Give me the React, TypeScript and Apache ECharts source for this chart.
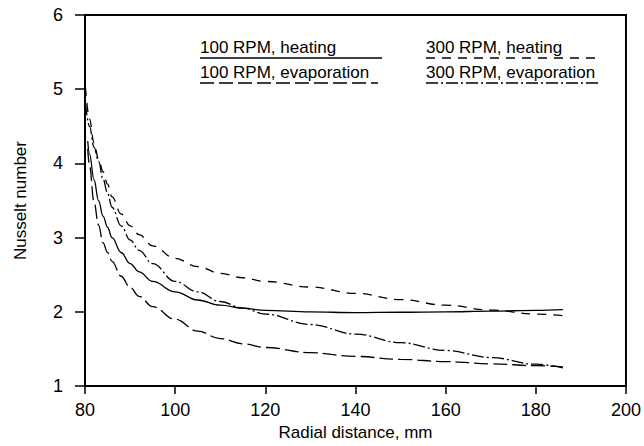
import React, { useEffect, useRef } from "react";
import * as echarts from "echarts";

// Radial distance (mm) sample points per curve
const xHeat100 = [80.6, 81, 82, 83, 84, 85, 86, 88, 90, 92, 95, 100, 105, 110, 115, 120, 130, 140, 150, 160, 170, 180, 186];
const yHeat100 = [4.3, 4.13, 3.78, 3.5, 3.29, 3.14, 3.0, 2.8, 2.65, 2.54, 2.41, 2.27, 2.16, 2.09, 2.05, 2.02, 2.0, 1.99, 1.995, 2.0, 2.01, 2.02, 2.03];

const xEvap100 = [80.6, 81, 82, 83, 84, 85, 86, 88, 90, 92, 95, 100, 105, 110, 115, 120, 130, 140, 150, 160, 170, 180, 186];
const yEvap100 = [4.2, 3.97, 3.48, 3.17, 2.93, 2.8, 2.68, 2.48, 2.33, 2.21, 2.07, 1.9, 1.74, 1.64, 1.57, 1.52, 1.45, 1.4, 1.36, 1.33, 1.3, 1.275, 1.26];

const xHeat300 = [80.1, 81, 82, 83, 84, 85, 86, 88, 90, 92, 95, 100, 105, 110, 115, 120, 130, 140, 150, 160, 170, 180, 186];
const yHeat300 = [5.03, 4.6, 4.28, 4.06, 3.89, 3.72, 3.55, 3.32, 3.16, 3.04, 2.89, 2.72, 2.61, 2.52, 2.46, 2.41, 2.335, 2.25, 2.165, 2.09, 2.025, 1.97, 1.95];

const xEvap300 = [80.1, 81, 82, 83, 84, 85, 86, 88, 90, 92, 95, 100, 105, 110, 115, 120, 130, 140, 150, 160, 170, 180, 186];
const yEvap300 = [4.81, 4.5, 4.22, 4.03, 3.79, 3.6, 3.41, 3.16, 2.97, 2.83, 2.65, 2.41, 2.27, 2.14, 2.05, 1.97, 1.83, 1.7, 1.585, 1.48, 1.385, 1.295, 1.245];

const legendLabels = ["100 RPM, heating", "100 RPM, evaporation", "300 RPM, heating", "300 RPM, evaporation"];

const FONT = "'Liberation Sans', Arial, sans-serif";
const DASH_LONG = [14, 5];
const DASH_SHORT = [9, 7];
const DASH_DOT = [12, 3, 2, 3];

function pairs(xs: number[], ys: number[]) {
  return xs.map((x, i) => [x, ys[i]]);
}

export default function App() {
  const ref = useRef<HTMLDivElement>(null);
  useEffect(() => {
    if (!ref.current) return;
    const chart = echarts.init(ref.current, null, { renderer: "svg" });
    const lineStyleBase = { color: "#000", width: 1.3 };
    const mkSeries = (name: string, data: number[][], type: any) => ({
      name,
      type: "line",
      data,
      showSymbol: false,
      symbol: "none",
      smooth: 0.4,
      smoothMonotone: "x",
      lineStyle: { ...lineStyleBase, type },
      silent: true,
    });
    const legendItem = (label: string, x: number, y: number, x2: number, dash: any) => [
      {
        type: "text",
        x,
        y,
        style: {
          text: label,
          fontSize: 17,
          fontFamily: FONT,
          fill: "#000",
          align: "left",
          verticalAlign: "middle",
        },
      },
      {
        type: "line",
        shape: { x1: x, y1: y + 11, x2, y2: y + 11 },
        style: { stroke: "#000", lineWidth: 1.3, lineDash: dash },
      },
    ];
    chart.setOption({
      animation: false,
      backgroundColor: "#fff",
      grid: {
        left: 85,
        right: 15,
        top: 15,
        bottom: 59,
        show: true,
        borderColor: "#000",
        borderWidth: 2,
      },
      xAxis: {
        type: "value",
        min: 80,
        max: 200,
        interval: 20,
        name: "Radial distance, mm",
        nameLocation: "middle",
        nameGap: 36,
        nameTextStyle: { fontSize: 17, fontFamily: FONT, color: "#000" },
        axisLine: { show: true, lineStyle: { color: "#000", width: 2 } },
        axisTick: { show: true, inside: false, length: 8, lineStyle: { color: "#000", width: 1.5 } },
        axisLabel: { fontSize: 18, fontFamily: FONT, color: "#000", margin: 15 },
        splitLine: { show: false },
      },
      yAxis: {
        type: "value",
        min: 1,
        max: 6,
        interval: 1,
        name: "Nusselt number",
        nameLocation: "middle",
        nameRotate: 90,
        nameGap: 56,
        nameTextStyle: { fontSize: 17, fontFamily: FONT, color: "#000" },
        axisLine: { show: true, lineStyle: { color: "#000", width: 2 } },
        axisTick: { show: true, inside: false, length: 10, lineStyle: { color: "#000", width: 1.5 } },
        axisLabel: { fontSize: 18, fontFamily: FONT, color: "#000", margin: 22 },
        splitLine: { show: false },
      },
      series: [
        mkSeries(legendLabels[0], pairs(xHeat100, yHeat100), "solid"),
        mkSeries(legendLabels[1], pairs(xEvap100, yEvap100), DASH_LONG),
        mkSeries(legendLabels[2], pairs(xHeat300, yHeat300), DASH_SHORT),
        mkSeries(legendLabels[3], pairs(xEvap300, yEvap300), DASH_DOT),
      ],
      graphic: [
        ...legendItem(legendLabels[0], 200, 47, 382, null),
        ...legendItem(legendLabels[1], 200, 72, 378, DASH_LONG),
        ...legendItem(legendLabels[2], 426, 47, 600, DASH_SHORT),
        ...legendItem(legendLabels[3], 426, 72, 600, DASH_DOT),
      ],
    });
    return () => chart.dispose();
  }, []);
  return (
    <div
      ref={ref}
      style={{ position: "absolute", left: 0, top: 0, width: 644, height: 446 }}
    />
  );
}
